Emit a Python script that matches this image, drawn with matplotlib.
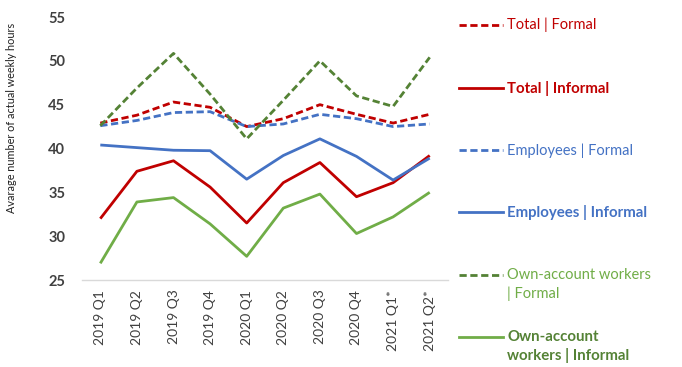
import matplotlib.pyplot as plt
from matplotlib.lines import Line2D
import numpy as np

# ── Data ─────────────────────────────────────────────────────────────────────
quarters = ["2019 Q1", "2019 Q2", "2019 Q3", "2019 Q4", "2020 Q1",
            "2020 Q2", "2020 Q3", "2020 Q4", "2021 Q1*", "2021 Q2*"]

total_formal = [42.9, 43.8, 45.3, 44.7, 42.5, 43.4, 45.0, 43.9, 42.9, 43.9]
total_informal = [32.0, 37.4, 38.6, 35.6, 31.5, 36.1, 38.4, 34.5, 36.1, 39.2]
emp_formal = [42.6, 43.2, 44.1, 44.2, 42.5, 42.8, 43.9, 43.4, 42.5, 42.8]
emp_informal = [40.4, 40.1, 39.8, 39.75, 36.5, 39.2, 41.1, 39.1, 36.4, 38.9]
own_formal = [42.6, 46.9, 50.85, 46.2, 41.1, 45.5, 50.0, 46.0, 44.8, 50.4]
own_informal = [26.9, 33.9, 34.4, 31.4, 27.7, 33.2, 34.8, 30.3, 32.2, 35.0]

# ── Colours ──────────────────────────────────────────────────────────────────
RED = "#C00000"
BLUE = "#4472C4"
GREEN_D = "#548235"
GREEN = "#70AD47"
TEXT = "#404040"

series = [
    # values, line colour, text colour, dashed, bold, label
    (total_formal, RED, RED, True, False, "Total | Formal"),
    (total_informal, RED, RED, False, True, "Total | Informal"),
    (emp_formal, BLUE, BLUE, True, False, "Employees | Formal"),
    (emp_informal, BLUE, BLUE, False, True, "Employees | Informal"),
    (own_formal, GREEN_D, GREEN, True, False, "Own-account workers\n| Formal"),
    (own_informal, GREEN, GREEN_D, False, True, "Own-account\nworkers | Informal"),
]

plt.rcParams["font.family"] = ["Lato", "DejaVu Sans"]

W, H = 682, 367
fig = plt.figure(figsize=(W / 100, H / 100), dpi=100)
ax = fig.add_axes([82 / W, 1 - 280 / H, (448 - 82) / W, (280 - 17) / H])

x = np.arange(len(quarters))
DASH = (0, (2.6, 1.3))
for vals, lc, tc, dashed, bold, label in series:
    ax.plot(x, vals, color=lc, linewidth=2.0,
            linestyle=DASH if dashed else "-", solid_capstyle="butt",
            dash_capstyle="butt", zorder=3)

ax.set_xlim(-0.5, len(quarters) - 0.5)
ax.set_ylim(25, 55)
ax.set_yticks(np.arange(25, 56, 5))
ax.set_xticks(x)
ax.set_xticklabels(quarters, rotation=90, fontsize=10, color=TEXT)
ax.tick_params(axis="y", length=0, pad=12, labelsize=10.5, labelcolor=TEXT)
ax.tick_params(axis="x", length=0, pad=7)
for t in ax.get_yticklabels():
    t.set_fontweight("bold")
for s in ["top", "right", "left"]:
    ax.spines[s].set_visible(False)
ax.spines["bottom"].set_color("#D9D9D9")
ax.spines["bottom"].set_linewidth(1.0)

ax.set_ylabel("Avarage number of actual weekly hours", fontsize=7.8,
              color="#202020")
ax.yaxis.set_label_coords((17 - 82) / 366, (280 - 118) / 263)

# ── Legend drawn on the right ────────────────────────────────────────────────
ys = [25, 88, 150, 212, 275, 337]
for (vals, lc, tc, dashed, bold, label), yp in zip(series, ys):
    yf = 1 - yp / H
    fig.add_artist(Line2D([459 / W, 503 / W], [yf, yf], color=lc,
                          linewidth=2.0, linestyle=DASH if dashed else "-",
                          transform=fig.transFigure))
    fig.text(507 / W, yf + 7 / H, label, color=tc,
             fontsize=10.8 if bold else 10.5,
             fontweight="bold" if bold else "normal", va="top", ha="left",
             linespacing=1.35)

fig.savefig("out.png", dpi=100, facecolor="white")
